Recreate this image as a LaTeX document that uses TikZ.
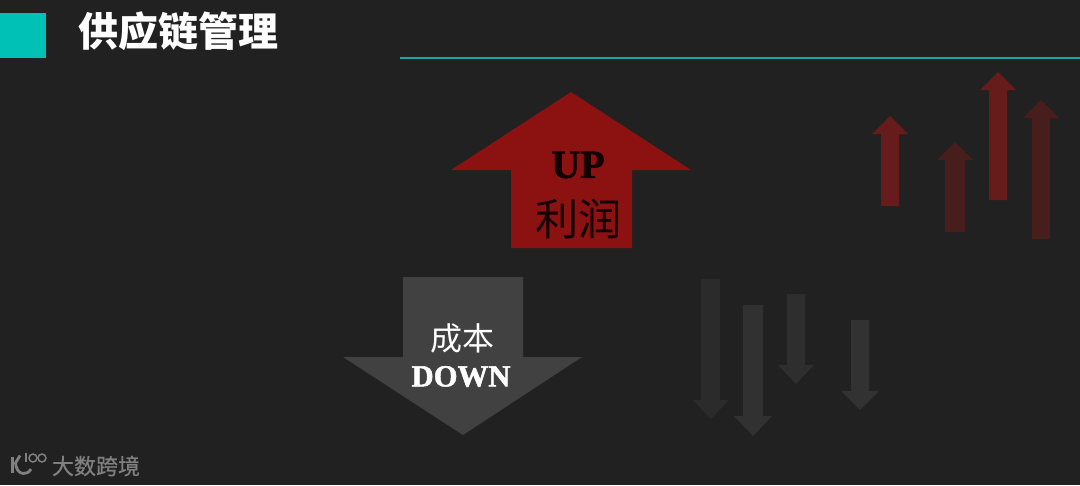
\documentclass[tikz,border=0pt]{standalone}
\usepackage{fontspec}
\setmainfont{Liberation Serif}
\newfontfamily\cjk{Noto Sans CJK SC}
\newfontfamily\heavyserif[FakeBold=1.6]{Liberation Serif Bold}
\tikzset{x=0.75pt,y=-0.75pt,
 lbl/.style={inner sep=0pt,outer sep=0pt,anchor=center},
 logo/.style={draw=logogray,line width=2.1pt,line join=round},
 logothin/.style={draw=logogray,line width=1.1pt}}
\definecolor{bg}{HTML}{212121}
\definecolor{teal}{HTML}{00C1B6}
\definecolor{rule}{HTML}{1CA5A3}
\definecolor{bigred}{HTML}{8B1210}
\definecolor{biggray}{HTML}{414141}
\definecolor{reda}{HTML}{651C1A}
\definecolor{redb}{HTML}{481E1D}
\definecolor{graya}{HTML}{2B2B2B}
\definecolor{grayb}{HTML}{313131}
\definecolor{grayc}{HTML}{2E2E2E}
\definecolor{grayd}{HTML}{323232}
\definecolor{logogray}{HTML}{808080}
\newcommand{\uparr}[8]{\fill[#8] (#1,#2) -- (#3,#4) -- (#5,#4) -- (#5,#7) -- (#6,#7) -- (#6,#4) -- (2*#1-#3,#4) -- cycle;}
\begin{document}
\begin{tikzpicture}
\useasboundingbox (0,0) rectangle (1080,485);
\fill[bg] (0,0) rectangle (1080,485);
\fill[teal] (0,13) rectangle (46,58);
\draw[rule,line width=1.1pt] (400,58) -- (1080,58);
\node[lbl,text=white] (title) at (178.5,31) {\cjk\bfseries\fontsize{30}{30}\selectfont 供应链管理};
% large arrows
\fill[bigred] (571,92) -- (691,170) -- (632,170) -- (632,248) -- (511,248) -- (511,170) -- (451,170) -- cycle;
\fill[biggray] (403,277) -- (523,277) -- (523,357) -- (582,357) -- (463,435) -- (343,357) -- (403,357) -- cycle;
\node[lbl,text=black!92!red] (up) at (578,165) {\heavyserif\fontsize{30}{30}\selectfont UP};
\node[lbl,text=black!92!red] (lirun) at (578.5,219) {\cjk\fontsize{32.5}{32.5}\selectfont 利润};
\node[lbl,text=white] (chengben) at (462.5,338) {\cjk\fontsize{24}{24}\selectfont 成本};
\node[lbl,text=white] (down) at (461,376.5) {\heavyserif\fontsize{23}{23}\selectfont DOWN};
% small up arrows: tip x, tip y, wing x, wing y, shaft right, shaft left, bottom
\uparr{890}{116}{908}{134}{899}{881}{206}{reda}
\uparr{955}{142}{973}{160}{965}{945}{232}{redb}
\uparr{998}{72}{1016}{90}{1007}{989}{200}{reda}
\uparr{1041}{100}{1059}{118}{1050}{1032}{239}{redb}
% small down arrows
\uparr{711}{419}{729}{400}{720}{701}{279}{graya}
\uparr{753}{436}{772}{416}{763}{743}{305}{grayb}
\uparr{796}{384}{814}{365}{805}{787}{294}{grayc}
\uparr{860}{410}{879}{391}{869}{851}{320}{grayd}
% logo
\draw[logo] (12.5,457) -- (12.5,473);
\draw[logo] (20,455.5) -- (15.5,463) .. controls (16,468) and (18,473) .. (23,473.5) .. controls (26,474) and (29,472.5) .. (31,469);
\draw[logothin] (26,453) -- (26,462);
\draw[logothin] (33,458) circle[radius=4];
\draw[logothin] (42,458) circle[radius=4];
\node[lbl,text=logogray] (brand) at (96,466) {\cjk\fontsize{16.5}{16.5}\selectfont\addfontfeature{FakeBold=0.6}大数跨境};
\end{tikzpicture}
\end{document}
